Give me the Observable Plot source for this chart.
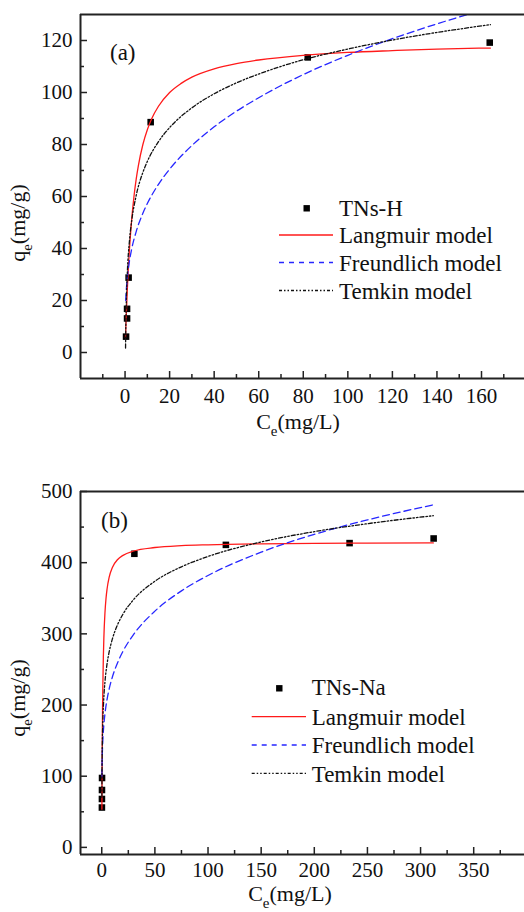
<!DOCTYPE html>
<html><head><meta charset="utf-8">
<script src="https://cdn.jsdelivr.net/npm/d3@7"></script>
<script src="https://cdn.jsdelivr.net/npm/@observablehq/plot@0.6"></script>
<style>
html,body{margin:0;padding:0;background:#fff;overflow:hidden;}
#wrap{position:relative;width:524px;height:912px;}
#wrap svg{position:absolute;left:0;}
</style></head><body><div id="wrap"></div>
<script>
// ---------- Panel (a): TNs-H ----------
const aDataC = [0.45, 0.9, 0.9, 1.6, 11.5, 82, 163.7];
const aDataQ = [6.1, 13.1, 16.8, 28.8, 88.6, 113.5, 119.2];
const aLangC = [0.2,0.5,1,1.5,2,3,4,5,6,8,10,12,15,20,25,30,40,50,60,80,100,120,140,164];
const aLangQ = [5.7,13.3,24,32.7,40,51.4,60,66.7,72,80,85.7,90,94.7,100,103.4,105.9,109.1,111.1,112.5,114.3,115.4,116.1,116.7,117.1];
const aFreuC = [0.3,0.5,1,2,3,5,8,10,15,20,30,40,50,60,80,100,120,140,155,164];
const aFreuQ = [20.0,23.3,28.7,35.3,39.9,46.5,53.6,57.3,64.7,70.5,79.6,86.8,92.8,98.0,106.9,114.3,120.7,126.4,130.3,132.5];
const aTemC = [0.22,0.3,0.5,1,2,3,5,8,10,15,20,30,40,50,60,80,100,120,140,164];
const aTemQ = [1.7,7.5,17.1,30.2,43.2,50.8,60.4,69.3,73.5,81.1,86.5,94.1,99.5,103.7,107.1,112.6,116.7,120.2,123.1,126.1];
const aXTicks = [0,20,40,60,80,100,120,140,160];
const aXMinor = [-10,10,30,50,70,90,110,130,150,170];
const aYTicks = [0,20,40,60,80,100,120];
const aYMinor = [10,30,50,70,90,110];
const aXDomain = [-20, 179.3];
const aYDomain = [-10, 130];

// ---------- Panel (b): TNs-Na ----------
const bDataC = [0.14,0.17,0.21,0.27,30.7,116.8,233.2,312.3];
const bDataQ = [56,68,80.6,97.5,412.5,425,427.5,434];
const bLangC = [0.13,0.2,0.3,0.5,0.75,1,1.5,2,3,4,5,7,10,15,20,30,50,75,100,150,200,250,312];
const bLangQ = [53.7,77.4,106.4,152.2,193.9,224.7,267.1,294.9,329.2,349.6,363.0,379.7,393.3,404.5,410.3,416.4,421.3,423.9,425.1,426.4,427.1,427.4,427.7];
const bFreuC = [0.13,0.2,0.3,0.5,1,2,3,5,7,10,15,20,30,50,75,100,150,200,250,312];
const bFreuQ = [99.2,108.2,117.5,130.3,150,172.7,187.5,208.0,222.7,239.4,259.9,275.6,299.2,331.9,360.4,382.0,414.8,439.8,460.1,481.3];
const bTemC = [0.12,0.2,0.3,0.5,1,2,3,5,7,10,15,20,30,50,75,100,150,200,250,312];
const bTemQ = [70.4,96.1,116.5,142.2,177.1,211.9,232.3,258.0,275.0,292.9,313.3,327.8,348.2,373.9,394.2,408.7,429.1,443.6,454.8,466.0];
const bXTicks = [0,50,100,150,200,250,300,350];
const bXMinor = [25,75,125,175,225,275,325,375];
const bYTicks = [0,100,200,300,400,500];
const bYMinor = [50,150,250,350,450];
const bXDomain = [-20, 397.8];
const bYDomain = [-10, 500];

// ---------- labels ----------
const panelTags = ["(a)", "(b)"];
const sampleNames = ["TNs-H", "TNs-Na"];
const modelNames = ["Langmuir model", "Freundlich model", "Temkin model"];
const modelColors = ["#ff1a1a", "#2626ff", "#111111"];
const modelDashes = [null, "7,4", "4,2,1.5,2,1.5,2"];
const legendDashes = [null, "5,5", "3,2,1.5,2,1.5,2"];

const zip = (cs, qs) => cs.map((c, i) => ({C: c, q: qs[i]}));
const FONT = "'Liberation Serif','Times New Roman',serif";
const AX = "#222";

function panel(cfg) {
  const W = 524, ML = 80;
  const plotW = W - ML, plotH = cfg.height - cfg.marginTop - cfg.marginBottom;
  const curves = cfg.curves.map(c => zip(c[0], c[1]));
  const marks = [
    Plot.dot(zip(cfg.pC, cfg.pQ), {x: "C", y: "q", symbol: "square", r: 3.7, fill: "#000"}),
    ...curves.map((d, i) => Plot.line(d, {x: "C", y: "q", stroke: modelColors[i], strokeWidth: 1.3,
      strokeDasharray: modelDashes[i], curve: "monotone-x", clip: true})),
    Plot.tickX(cfg.xMajor, {x: d => d, insetTop: plotH - 7, stroke: AX, strokeWidth: 1.5}),
    Plot.tickX(cfg.xMinor, {x: d => d, insetTop: plotH - 4, stroke: AX, strokeWidth: 1.5}),
    Plot.tickY(cfg.yMajor, {y: d => d, insetRight: plotW - 7, stroke: AX, strokeWidth: 1.5}),
    Plot.tickY(cfg.yMinor, {y: d => d, insetRight: plotW - 4, stroke: AX, strokeWidth: 1.5}),
    Plot.ruleY([cfg.yDomain[0], cfg.yDomain[1]], {stroke: AX, strokeWidth: 2}),
    Plot.ruleX([cfg.xDomain[0]], {stroke: AX, strokeWidth: 2}),
    Plot.axisX({ticks: cfg.xMajor, tickSize: 0, tickPadding: cfg.xPad, label: null}),
    Plot.axisY({ticks: cfg.yMajor, tickSize: 0, tickPadding: 8, label: null})
  ];
  const svg = Plot.plot({
    width: W, height: cfg.height,
    marginLeft: ML, marginRight: 0, marginTop: cfg.marginTop, marginBottom: cfg.marginBottom,
    x: {domain: cfg.xDomain}, y: {domain: cfg.yDomain},
    style: {fontFamily: FONT, fontSize: "21px", color: "#111", background: "#fff", overflow: "visible"},
    marks
  });
  svg.style.top = cfg.top + "px";
  return svg;
}

function richText(svg, {x, y, rotate = 0, anchor = "middle", size, parts}) {
  const t = d3.select(svg).append("text")
    .attr("transform", `translate(${x},${y}) rotate(${rotate})`)
    .attr("text-anchor", anchor).attr("font-size", size).attr("fill", "#111")
    .attr("font-family", FONT);
  let prevSub = false;
  parts.forEach(([s, sub]) => {
    const ts = t.append("tspan").text(s);
    if (sub) { ts.attr("font-size", size * 0.68).attr("dy", size * 0.3); }
    else if (prevSub) { ts.attr("dy", -size * 0.3); }
    prevSub = sub;
  });
}

function legend(svg, L) {
  const g = d3.select(svg).append("g").attr("font-family", FONT).attr("font-size", 23)
    .attr("fill", "#111").attr("text-anchor", "start");
  g.append("rect").attr("x", L.mx - 3.2).attr("y", L.my - 3.2).attr("width", 6.4).attr("height", 6.4).attr("fill", "#000");
  g.append("text").attr("x", L.tx).attr("y", L.ty0).attr("text-anchor", "start").text(L.name);
  modelNames.forEach((n, i) => {
    const ly = L.ly[i];
    g.append("line").attr("x1", L.lx1).attr("x2", L.lx2).attr("y1", ly).attr("y2", ly)
      .attr("stroke", modelColors[i]).attr("stroke-width", 1.3)
      .attr("stroke-dasharray", legendDashes[i]);
    g.append("text").attr("x", L.tx).attr("y", ly + 8.3).attr("text-anchor", "start").text(n);
  });
}

const wrap = document.getElementById("wrap");

// Panel a
const svgA = panel({
  top: 0, height: 445, marginTop: 14, marginBottom: 67, xPad: 10,
  xDomain: aXDomain, yDomain: aYDomain, xMajor: aXTicks, xMinor: aXMinor, yMajor: aYTicks, yMinor: aYMinor,
  pC: aDataC, pQ: aDataQ,
  curves: [[aLangC, aLangQ], [aFreuC, aFreuQ], [aTemC, aTemQ]]
});
wrap.appendChild(svgA);
richText(svgA, {x: 298, y: 429, size: 22, parts: [["C", false], ["e", true], ["(mg/L)", false]]});
richText(svgA, {x: 25, y: 223, rotate: -90, size: 22, parts: [["q", false], ["e", true], ["(mg/g)", false]]});
richText(svgA, {x: 110, y: 60, anchor: "start", size: 23, parts: [[panelTags[0], false]]});
legend(svgA, {mx: 306.7, my: 208.3, tx: 339, ty0: 215.5, name: sampleNames[0], lx1: 279, lx2: 333, ly: [235, 262.5, 290.5]});

// Panel b
const svgB = panel({
  top: 445, height: 467, marginTop: 46, marginBottom: 58, xPad: 8,
  xDomain: bXDomain, yDomain: bYDomain, xMajor: bXTicks, xMinor: bXMinor, yMajor: bYTicks, yMinor: bYMinor,
  pC: bDataC, pQ: bDataQ,
  curves: [[bLangC, bLangQ], [bFreuC, bFreuQ], [bTemC, bTemQ]]
});
wrap.appendChild(svgB);
richText(svgB, {x: 290, y: 456, size: 22, parts: [["C", false], ["e", true], ["(mg/L)", false]]});
richText(svgB, {x: 25, y: 253, rotate: -90, size: 22, parts: [["q", false], ["e", true], ["(mg/g)", false]]});
richText(svgB, {x: 101, y: 83, anchor: "start", size: 23, parts: [[panelTags[1], false]]});
legend(svgB, {mx: 279.3, my: 243.3, tx: 311.7, ty0: 250, name: sampleNames[1], lx1: 251.7, lx2: 306, ly: [271.7, 300, 328.3]});
</script>
</body></html>
